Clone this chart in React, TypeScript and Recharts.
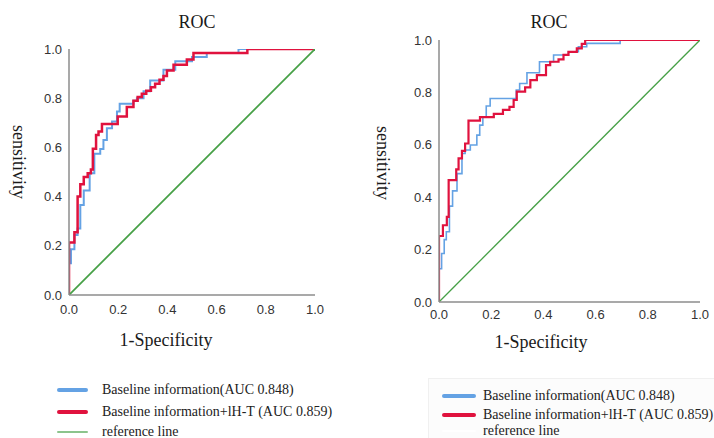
import React from "react";
import { LineChart, Line, XAxis, YAxis, Legend } from "recharts";

// ---- data ----
const ticks = [0, 0.2, 0.4, 0.6, 0.8, 1.0];
const seriesNames = [
  "Baseline information(AUC 0.848)",
  "Baseline information+lH-T (AUC 0.859)",
  "reference line",
];

const leftBaseFpr = [0, 0, 0.008, 0.022, 0.035, 0.046, 0.06, 0.084, 0.103, 0.127, 0.14, 0.154, 0.175, 0.195, 0.206, 0.262, 0.276, 0.303, 0.33, 0.384, 0.432, 0.5, 0.56, 0.689, 1];
const leftBaseTpr = [0, 0.129, 0.186, 0.244, 0.27, 0.366, 0.425, 0.495, 0.574, 0.593, 0.63, 0.678, 0.705, 0.746, 0.777, 0.79, 0.8, 0.828, 0.872, 0.916, 0.95, 0.967, 0.984, 1, 1];

const leftIhtFpr = [0, 0, 0.022, 0.035, 0.046, 0.06, 0.076, 0.089, 0.097, 0.11, 0.12, 0.134, 0.198, 0.235, 0.262, 0.279, 0.296, 0.314, 0.333, 0.35, 0.368, 0.384, 0.398, 0.425, 0.479, 0.506, 0.725, 1];
const leftIhtTpr = [0, 0.213, 0.255, 0.4, 0.45, 0.48, 0.495, 0.51, 0.595, 0.65, 0.665, 0.695, 0.726, 0.764, 0.79, 0.805, 0.818, 0.83, 0.845, 0.859, 0.875, 0.89, 0.913, 0.936, 0.957, 0.984, 1, 1];

const rightBaseFpr = [0, 0, 0.01, 0.02, 0.028, 0.04, 0.052, 0.069, 0.088, 0.1, 0.12, 0.145, 0.156, 0.168, 0.181, 0.196, 0.209, 0.296, 0.309, 0.337, 0.385, 0.439, 0.496, 0.534, 0.566, 0.694, 1];
const rightBaseTpr = [0, 0.127, 0.185, 0.238, 0.268, 0.366, 0.424, 0.49, 0.567, 0.58, 0.599, 0.637, 0.675, 0.707, 0.748, 0.777, 0.777, 0.809, 0.834, 0.875, 0.917, 0.943, 0.955, 0.974, 0.987, 1, 1];

const rightIhtFpr = [0, 0, 0.015, 0.03, 0.037, 0.066, 0.075, 0.088, 0.1, 0.113, 0.157, 0.21, 0.245, 0.27, 0.286, 0.298, 0.33, 0.35, 0.375, 0.41, 0.426, 0.458, 0.477, 0.496, 0.528, 0.547, 0.56, 1];
const rightIhtTpr = [0, 0.252, 0.293, 0.325, 0.465, 0.506, 0.548, 0.577, 0.605, 0.692, 0.706, 0.718, 0.733, 0.745, 0.771, 0.803, 0.819, 0.847, 0.866, 0.904, 0.917, 0.926, 0.943, 0.955, 0.968, 0.985, 1, 1];

const refFpr = [0, 1];
const refTpr = [0, 1];

const zip = (xs: number[], ys: number[]) => xs.map((x, i) => ({ x, y: ys[i] }));

const BLUE = "#64a2e4";
const RED = "#e0123e";
const GREEN = "#46a046";

const serif = "'Liberation Serif', 'Times New Roman', serif";
const sans = "'Liberation Sans', Arial, sans-serif";

type PanelProps = {
  base: { x: number; y: number }[];
  iht: { x: number; y: number }[];
  margin: { top: number; right: number; left: number; bottom: number };
  widths: [number, number, number];
  tickGap: number;
  legendPos: { left: number; top: number };
  legendRows: number[];
  legendLine: { width: number; gap: number };
  legendColors: string[];
};

const Panel = (p: PanelProps) => {
  const refData = zip(refFpr, refTpr);
  const renderLegend = (props: any) => {
    const payload = props.payload || [];
    return (
      <div style={{ position: "relative", width: 320, height: 60, fontFamily: serif, fontSize: 14, color: "#222" }}>
        {payload.map((item: any, i: number) => (
          <div
            key={i}
            style={{
              position: "absolute",
              left: 0,
              top: p.legendRows[i] - 9,
              height: 18,
              display: "flex",
              alignItems: "center",
              whiteSpace: "nowrap",
            }}
          >
            <span
              style={{
                display: "inline-block",
                width: p.legendLine.width,
                height: i === 2 ? 2 : 4,
                borderRadius: 2,
                background: p.legendColors[i],
                marginRight: p.legendLine.gap,
              }}
            />
            <span>{item.value}</span>
          </div>
        ))}
      </div>
    );
  };
  return (
    <LineChart width={357} height={438} margin={p.margin}>
      <XAxis
        type="number"
        dataKey="x"
        domain={[0, 1]}
        ticks={ticks}
        tickFormatter={(v: number) => v.toFixed(1)}
        axisLine={{ stroke: "#8c8c8c", strokeWidth: 1.5 }}
        tickLine={false}
        tickSize={p.tickGap}
        tickMargin={2}
        height={30}
        tick={{ fill: "#333", fontSize: 13, fontFamily: sans }}
        allowDataOverflow
      />
      <YAxis
        type="number"
        dataKey="y"
        domain={[0, 1]}
        ticks={ticks}
        tickFormatter={(v: number) => v.toFixed(1)}
        axisLine={{ stroke: "#8c8c8c", strokeWidth: 1.5 }}
        tickLine={false}
        tickSize={5}
        tickMargin={2}
        width={40}
        tick={{ fill: "#333", fontSize: 13, fontFamily: sans }}
        allowDataOverflow
      />
      <Legend
        layout="vertical"
        align="center"
        verticalAlign="middle"
        wrapperStyle={{ position: "absolute", left: p.legendPos.left, top: p.legendPos.top, width: 320 }}
        content={renderLegend}
      />
      <Line
        data={p.base}
        dataKey="y"
        name={seriesNames[0]}
        type="stepAfter"
        stroke={BLUE}
        strokeWidth={p.widths[0]}
        dot={false}
        activeDot={false}
        isAnimationActive={false}
      />
      <Line
        data={p.iht}
        dataKey="y"
        name={seriesNames[1]}
        type="stepAfter"
        stroke={RED}
        strokeWidth={p.widths[1]}
        dot={false}
        activeDot={false}
        isAnimationActive={false}
      />
      <Line
        data={refData}
        dataKey="y"
        name={seriesNames[2]}
        type="linear"
        stroke={GREEN}
        strokeWidth={p.widths[2]}
        dot={false}
        activeDot={false}
        isAnimationActive={false}
      />
    </LineChart>
  );
};

const Label = ({ x, y, text, rotate }: { x: number; y: number; text: string; rotate?: boolean }) => (
  <div
    style={{
      position: "absolute",
      left: x,
      top: y,
      transform: `translate(-50%, -50%)${rotate ? " rotate(90deg)" : ""}`,
      fontFamily: serif,
      fontSize: 18,
      color: "#1a1a1a",
      whiteSpace: "nowrap",
      lineHeight: "20px",
    }}
  >
    {text}
  </div>
);

export default function App() {
  return (
    <div style={{ position: "absolute", left: 0, top: 0, width: 714, height: 438, background: "#fff", overflow: "hidden" }}>
      <div style={{ position: "absolute", left: 428, top: 378, width: 290, height: 64, background: "#fcfcfc", border: "1px solid #f0f0f0" }} />
      <div style={{ position: "absolute", left: 0, top: 0 }}>
        <Panel
          base={zip(leftBaseFpr, leftBaseTpr)}
          iht={zip(leftIhtFpr, leftIhtTpr)}
          margin={{ top: 49, right: 42, left: 29, bottom: 113 }}
          widths={[2, 2.5, 1.8]}
          tickGap={8}
          legendPos={{ left: 57, top: 380 }}
          legendRows={[10, 32, 52]}
          legendLine={{ width: 31, gap: 14 }}
          legendColors={[BLUE, RED, "#8cc48c"]}
        />
      </div>
      <div style={{ position: "absolute", left: 357, top: 0 }}>
        <Panel
          base={zip(rightBaseFpr, rightBaseTpr)}
          iht={zip(rightIhtFpr, rightIhtTpr)}
          margin={{ top: 40, right: 14, left: 42, bottom: 106 }}
          widths={[1.6, 2.2, 1.3]}
          tickGap={6}
          legendPos={{ left: 85, top: 386 }}
          legendRows={[10, 29, 45]}
          legendLine={{ width: 34, gap: 7 }}
          legendColors={[BLUE, RED, "#ffffff"]}
        />
      </div>
      <Label x={197} y={22} text="ROC" />
      <Label x={549} y={22} text="ROC" />
      <Label x={18.5} y={162} text="sensitivity" rotate />
      <Label x={383} y={163} text="sensitivity" rotate />
      <Label x={166} y={340} text="1-Specificity" />
      <Label x={541} y={342} text="1-Specificity" />
    </div>
  );
}
